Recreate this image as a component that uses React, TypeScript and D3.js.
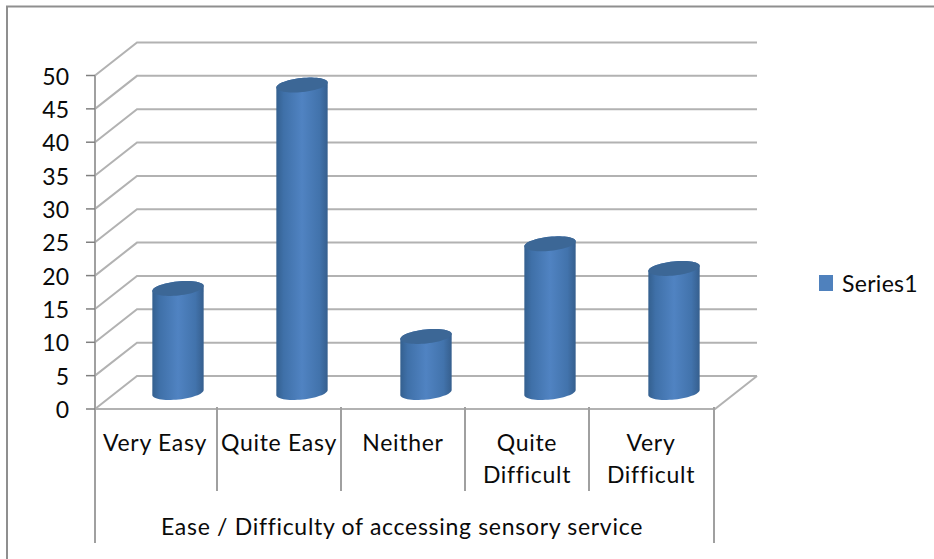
import React from "react";
import * as d3 from "d3";

const categories: string[][] = [["Very Easy"], ["Quite Easy"], ["Neither"], ["Quite", "Difficult"], ["Very", "Difficult"]];
const seriesValues = [15.6, 46.1, 8.4, 22.3, 18.6];
const seriesName = "Series1";
const axisTitle = "Ease / Difficulty of accessing sensory service";
const yTicks = [0, 5, 10, 15, 20, 25, 30, 35, 40, 45, 50];

const font = "Lato, 'Open Sans', sans-serif";
const gridColor = "#b2b2b2";
const axisColor = "#a0a0a0";
const textColor = "#0a0a0a";

const depthX = 42;
const depthY = -33;
// The category labels and dividers sit slightly left of the plot floor.
const labelShift = -2;

const y = d3.scaleLinear().domain([0, 50]).range([409, 75.5]);
const x = d3.scaleBand<number>().domain(d3.range(categories.length)).range([95, 715]);
const outline = d3.line();

// Points along half of a tilted ellipse, from its left end to its right end.
function halfEllipse(cx: number, cy: number, rx: number, ry: number, tilt: number, below: boolean) {
  const c = Math.cos(tilt);
  const s = Math.sin(tilt);
  return d3.range(0, 181, 6).map((deg) => {
    const a = (deg * Math.PI) / 180;
    const ex = -rx * Math.cos(a);
    const ey = (below ? 1 : -1) * ry * Math.sin(a);
    return [cx + ex * c - ey * s, cy + ex * s + ey * c] as [number, number];
  });
}

// Tilted cylinder: body outline between the end ellipses, then the darker cap.
function Cylinder({ index, value }: { index: number; value: number }) {
  const cx = x(index)! + x.bandwidth() / 2 + depthX / 2;
  const baseY = y(0) + depthY / 2;
  const topY = y(value) + depthY / 2;
  const rx = 25.8;
  const ry = 7;
  const tilt = (-6 * Math.PI) / 180;
  const top = halfEllipse(cx, topY, rx, ry, tilt, false);
  const base = halfEllipse(cx, baseY, rx, ry, tilt, true);
  const cap = top.concat(halfEllipse(cx, topY, rx, ry, tilt, true).reverse());
  return (
    <g>
      <path d={outline(top.concat(base.slice().reverse()))! + "Z"} fill="url(#cylinderFill)" />
      <path d={outline(cap)! + "Z"} fill="#3c6796" />
    </g>
  );
}

export default function App() {
  const left = x.range()[0];
  const right = x.range()[1];
  const bottom = y(0);
  return (
    <svg
      width={934}
      height={559}
      style={{ position: "absolute", left: 0, top: 0, background: "#fff" }}
      fontFamily={font}
    >
      <defs>
        <linearGradient id="cylinderFill" x1="0" x2="1" y1="0" y2="0">
          <stop offset="0" stopColor="#34608f" />
          <stop offset="0.14" stopColor="#3f70a8" />
          <stop offset="0.5" stopColor="#5083c2" />
          <stop offset="0.84" stopColor="#4273ac" />
          <stop offset="1" stopColor="#365f8e" />
        </linearGradient>
      </defs>

      <path d="M7,559 V6.5 H934" fill="none" stroke="#8f8f8f" strokeWidth={2} />

      {/* back wall and side wall gridlines */}
      {yTicks.map((t) => (
        <path
          key={t}
          d={`M${left},${y(t)} L${left + depthX},${y(t) + depthY} H${right + depthX}`}
          stroke={gridColor}
          strokeWidth={2}
          fill="none"
        />
      ))}
      <path
        d={`M${left},${bottom} H${right} L${right + depthX},${bottom + depthY}`}
        fill="none"
        stroke={gridColor}
        strokeWidth={2}
      />

      {/* value axis */}
      <line x1={left} x2={left} y1={y(50)} y2={543} stroke={axisColor} strokeWidth={2} />
      {yTicks.map((t) => (
        <g key={t}>
          <line x1={left - 9} x2={left} y1={y(t)} y2={y(t)} stroke="#808080" strokeWidth={1.5} />
          <text x={69} y={y(t)} textAnchor="end" dominantBaseline="central" fontSize={23} fill={textColor}>
            {t}
          </text>
        </g>
      ))}

      {/* category dividers */}
      {d3.range(1, categories.length).map((i) => (
        <line
          key={i}
          x1={x(i)! + labelShift}
          x2={x(i)! + labelShift}
          y1={407}
          y2={491}
          stroke={axisColor}
          strokeWidth={2}
        />
      ))}
      <line x1={right - 1} x2={right - 1} y1={407} y2={543} stroke={axisColor} strokeWidth={2} />

      {seriesValues.map((v, i) => (
        <Cylinder key={i} index={i} value={v} />
      ))}

      {categories.map((lines, i) =>
        lines.map((line, j) => (
          <text
            key={line}
            x={x(i)! + x.bandwidth() / 2 + labelShift}
            y={442 + j * 32}
            textAnchor="middle"
            dominantBaseline="central"
            fontSize={23}
            letterSpacing={0.7}
            fill={textColor}
          >
            {line}
          </text>
        ))
      )}

      <text
        x={(left + right) / 2 - 3}
        y={526}
        textAnchor="middle"
        dominantBaseline="central"
        fontSize={23}
        letterSpacing={0.7}
        fill={textColor}
      >
        {axisTitle}
      </text>

      <rect x={819} y={275} width={14} height={16} fill="#4f81bd" />
      <text x={842} y={283} dominantBaseline="central" fontSize={23} letterSpacing={0.3} fill={textColor}>
        {seriesName}
      </text>
    </svg>
  );
}
